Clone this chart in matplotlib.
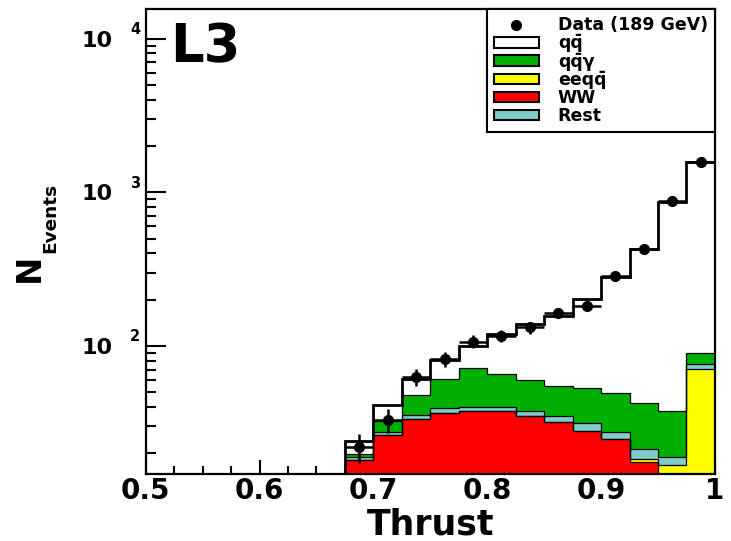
import numpy as np
import matplotlib
matplotlib.use('Agg')
import matplotlib.pyplot as plt
from matplotlib.ticker import MultipleLocator, LogLocator, NullFormatter, FuncFormatter, FixedLocator
from matplotlib.patches import Patch
from matplotlib.lines import Line2D

# thrust bins (0.675 - 1.0, width 0.025)
edges = [0.675, 0.700, 0.725, 0.750, 0.775, 0.800, 0.825, 0.850,
         0.875, 0.900, 0.925, 0.950, 0.975, 1.000]
centers = [0.6875, 0.7125, 0.7375, 0.7625, 0.7875, 0.8125, 0.8375,
           0.8625, 0.8875, 0.9125, 0.9375, 0.9625, 0.9875]

# MC components, stacked bottom -> top
ww   = [18.1, 26.3, 33.5, 36.8, 37.9, 37.7, 35.0, 32.0, 28.1, 24.7, 17.5, 8.0, 3.0]
eeqq = [0, 0, 0, 0, 0, 0, 0, 0, 0, 0, 1.0, 8.8, 67.5]
rest = [0.8, 1.3, 2.1, 2.5, 2.3, 2.5, 2.7, 3.0, 3.3, 3.0, 2.9, 2.1, 5.5]
qqg  = [1.0, 5.0, 12.4, 21.6, 31.4, 25.8, 22.1, 19.9, 21.6, 21.5, 21.0, 18.8, 13.6]
qq   = [4.3, 8.5, 12.7, 20.2, 28.4, 53.2, 79.2, 102.6, 149.3, 233.4, 385.6, 832, 1480]

data = [22, 33, 63, 82, 107, 117, 132, 165, 183, 286, 426, 883, 1563]
data_err = [4.7, 5.7, 7.9, 9.1, 10.3, 10.8, 11.5, 12.8, 13.5, 16.9, 20.6, 29.7, 39.5]

layers = [ww, eeqq, rest, qqg, qq]
colors = ['#ff0000', '#ffff00', '#80cccc', '#00b000', '#ffffff']
names = ['WW', 'eeqq\u0304', 'Rest', 'qq\u0304\u03b3', 'qq\u0304']

plt.rcParams['font.family'] = 'DejaVu Sans'
plt.rcParams['font.weight'] = 'bold'

fig = plt.figure(figsize=(7.31, 5.41), dpi=100)
ax = fig.add_axes([0.1993, 0.1238, 0.7787, 0.8590])

edges_a = np.array(edges)
bottom = np.ones(len(ww))
cum = np.zeros(len(ww))
for vals, col in zip(layers, colors):
    cum = cum + np.array(vals)
    ax.stairs(cum, edges_a, baseline=bottom, fill=True, color=col, lw=0, zorder=2)
    ax.stairs(cum, edges_a, baseline=None, color='black', lw=0.9, zorder=3)
    bottom = cum.copy()

# total MC outline
ax.stairs(cum, edges_a, baseline=1, fill=False, color='black', lw=2, zorder=4)

# data
ax.errorbar(centers, data, xerr=0.0125, yerr=data_err, fmt='o', color='black',
            ms=7, elinewidth=1.8, capsize=0, zorder=5)

ax.set_yscale('log')
ax.set_xlim(0.5, 1.0)
ax.set_ylim(14.7, 15500)

ax.xaxis.set_major_locator(MultipleLocator(0.1))
ax.xaxis.set_minor_locator(MultipleLocator(0.025))
ax.xaxis.set_major_formatter(FuncFormatter(lambda v, p: f'{v:g}'))
ax.yaxis.set_major_locator(FixedLocator([100, 1000, 10000]))
ax.yaxis.set_minor_locator(LogLocator(base=10, subs=np.arange(2, 10)))
ax.yaxis.set_major_formatter(FuncFormatter(lambda v, p: '10'))
ax.yaxis.set_minor_formatter(NullFormatter())

ax.tick_params(which='both', direction='in', top=False, right=False, width=1.5)
ax.tick_params(axis='x', which='major', length=10, labelsize=20, pad=2)
ax.tick_params(axis='x', which='minor', length=5.5)
ax.tick_params(axis='y', which='major', length=14.5, labelsize=16, pad=23.5)
ax.tick_params(axis='y', which='minor', length=7.2)
for s in ax.spines.values():
    s.set_linewidth(1.6)

# exponents of the y tick labels
for e in [2, 3, 4]:
    ax.annotate(str(e), xy=(0, 10 ** e), xycoords=('axes fraction', 'data'),
                xytext=(-11.3, 6.5), textcoords='offset points',
                ha='left', va='center', fontsize=10.5, fontweight='bold')

ax.set_xlabel('Thrust', fontsize=25, fontweight='bold')
ax.xaxis.set_label_coords(0.5, -0.131)
ax.xaxis.label.set_va('baseline')

ax.text(-0.205, 0.443, 'N', transform=ax.transAxes, rotation=90,
        ha='center', va='center', fontsize=24.5, fontweight='bold')
ax.text(-0.168, 0.551, 'Events', transform=ax.transAxes, rotation=90,
        ha='center', va='center', fontsize=13.3, fontweight='bold')

ax.text(0.043, 0.887, 'L3', transform=ax.transAxes, fontsize=38,
        fontweight='bold', va='baseline', ha='left')

handles = [Line2D([], [], marker='o', color='black', ls='none', ms=7)]
labels = ['Data (189 GeV)']
for i in [4, 3, 1, 0, 2]:
    handles.append(Patch(facecolor=colors[i], edgecolor='black', lw=1.5))
    labels.append(names[i])
leg = ax.legend(handles, labels, loc='upper right', bbox_to_anchor=(1.0, 1.0),
                borderaxespad=0, prop={'weight': 'bold', 'size': 12.5},
                frameon=True, fancybox=False, framealpha=1, edgecolor='black',
                handlelength=2.6, handleheight=0.55, handletextpad=1.1,
                labelspacing=0.0, borderpad=0.4)
leg.get_frame().set_linewidth(1.5)

fig.savefig('out.png', dpi=100)
